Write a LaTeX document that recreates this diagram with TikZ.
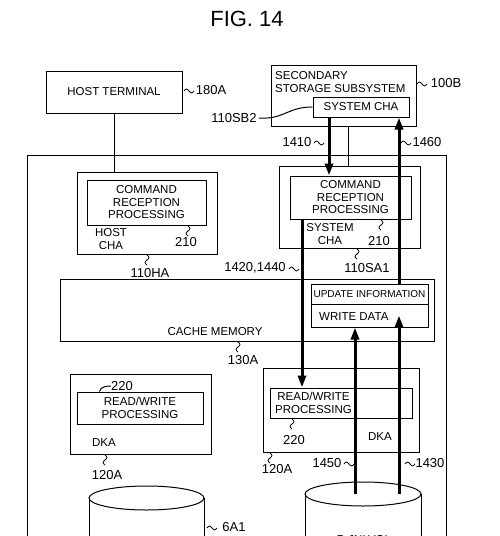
\documentclass[tikz,border=0pt]{standalone}
\usepackage{fontspec}
\setmainfont{Liberation Sans}
\usetikzlibrary{arrows.meta, positioning, calc}

\tikzset{
  box/.style={draw, line width=1pt, inner sep=0pt},
  tag/.style={inner sep=0pt, font=\fontsize{13}{14}\selectfont},
  boxname/.style={inner sep=0pt},
  link/.style={line width=1pt},
  heavy/.style={line width=3pt, -{Triangle[length=12pt,width=8pt]}},
  wave/.pic={\draw[line width=0.8pt] (0,0) sin (2.5,-2) cos (5,0) sin (7.5,2) cos (10,0);},
}

\begin{document}
\begin{tikzpicture}
	[x=1pt, y=-1pt, font=\fontsize{11.5}{12.5}\selectfont]
   \useasboundingbox (0,0) rectangle (500,536);
   \node[font=\fontsize{22}{24}\selectfont] (fig) at (247,19) {FIG. 14};

   % host terminal and secondary subsystem
   \node[box, minimum width=136pt, minimum height=42pt] (host) at (114,92) {HOST TERMINAL};
   \pic at (184,91) {wave};
   \node[tag] (l180A) at (211,90) {180A};
   \node[box, minimum width=145pt, minimum height=61pt] (sec) at (343.5,95.5) {};
   \node[boxname, anchor=north west, align=left] (secname) at (275,71.5) {SECONDARY\\STORAGE SUBSYSTEM};
   \node[box, minimum width=96pt, minimum height=20pt] (sbcha) at (361,107) {SYSTEM CHA};
   \pic at (417,84) {wave};
   \node[tag] (l100B) at (446,83) {100B};
   \node[tag] (l110SB2) at (234,118) {110SB2};
   \draw[link] ($(l110SB2.east)+(2,0)$) -- ++(8,0) .. controls (285,117) and (290,107) .. (sbcha.west);

   % primary subsystem
   \node[box, minimum width=419pt, minimum height=445pt] (frame) at (236.5,377.5) {};

   \node[box, minimum width=140pt, minimum height=82pt] (hcha) at (147,213) {};
   \node[box, minimum width=119pt, minimum height=45pt, align=center] (hcmd) at (146.5,202.5) {COMMAND\\RECEPTION\\PROCESSING};
   \node[boxname, align=center] (hchaname) at (111,239) {HOST\\CHA};
   \pic[rotate=-90] at (188,226) {wave};
   \node[tag] (l210a) at (186,242) {210};
   \pic[rotate=-90] at (147,255) {wave};
   \node[tag] (l110HA) at (150,273) {110HA};
   \draw[link] (host.south) -- (host.south |- hcha.north);

   \node[box, minimum width=141pt, minimum height=82pt] (scha) at (349.5,207) {};
   \node[box, minimum width=121pt, minimum height=43pt, align=center] (scmd) at (350.5,197.5) {COMMAND\\RECEPTION\\PROCESSING};
   \node[boxname, align=center] (schaname) at (330,234) {SYSTEM\\CHA};
   \pic[rotate=-90] at (381,220) {wave};
   \node[tag] (l210b) at (379,241) {210};
   \pic[rotate=-90] at (357,249) {wave};
   \node[tag] (l110SA1) at (367,268) {110SA1};
   \coordinate (xS) at (348,0);
   \draw[link] (sec.south -| xS) -- (scha.north -| xS);

   % cache memory
   \node[box, minimum width=374pt, minimum height=62pt] (cache) at (247,310) {};
   \node[boxname] (cachename) at (215,332) {CACHE MEMORY};
   \pic[rotate=-90] at (238,342) {wave};
   \node[tag] (l130A) at (243,360) {130A};
   \node[box, minimum width=117pt, minimum height=20pt, font=\fontsize{10}{12}\selectfont] (upd) at (369.5,294) {UPDATE INFORMATION};
   \node[box, minimum width=117pt, minimum height=23pt] (wdat) at (369.5,315.5) {};
   \node[boxname, anchor=west] (wdatname) at (319,317) {WRITE DATA};

   % disk adapters
   \node[box, minimum width=141pt, minimum height=80pt] (ldka) at (140.5,414) {};
   \node[box, minimum width=126pt, minimum height=32pt, align=center] (lrw) at (140,408) {READ/WRITE\\PROCESSING};
   \node[tag] (l220a) at (122,386) {220};
   \draw[link] ($(lrw.north west)+(23,0)$) .. controls +(1,-5) and +(-4,0) .. (l220a.west);
   \node[boxname] (ldkaname) at (104,443) {DKA};
   \pic[rotate=-90] at (105,455) {wave};
   \node[tag] (l120Aa) at (107,475) {120A};

   \node[box, minimum width=156pt, minimum height=84pt] (rdka) at (341,410) {};
   \node[box, minimum width=142pt, minimum height=30pt] (rrw) at (341,403) {};
   \node[boxname, align=center] (rrwname) at (313.5,403) {READ/WRITE\\PROCESSING};
   \pic[rotate=-90] at (292,419) {wave};
   \node[tag] (l220b) at (294,440) {220};
   \node[boxname] (rdkaname) at (380,437) {DKA};
   \pic[rotate=-90] at (270,453) {wave};
   \node[tag] (l120Ab) at (277,469) {120A};

   % volumes
   \coordinate (dl) at (146.5,498);
   \coordinate (dr) at (363,494);
   \draw[link] (dl) ellipse [x radius=57.5, y radius=12];
   \draw[link] ($(dl)+(-57.5,0)$) -- ++(0,60) ($(dl)+(57.5,0)$) -- ++(0,60);
   \draw[link] (dr) ellipse [x radius=58, y radius=12];
   \draw[link] ($(dr)+(-58,0)$) -- ++(0,60) ($(dr)+(58,0)$) -- ++(0,60);
   \pic at (207,528) {wave};
   \node[tag] (l6A1) at (234,527) {6A1};
   \node[boxname] (pjnl) at (364,540) {P-JNLVOL};

   % data flow
   \coordinate (xA) at (329,0);
   \coordinate (xB) at (302,0);
   \coordinate (xC) at (355,0);
   \coordinate (xD) at (399,0);
   \draw[heavy] (sbcha.south -| xA) -- (scmd.north -| xA);
   \draw[heavy] (upd.north -| xD) -- (sbcha.south -| xD);
   \draw[heavy] (scmd.south -| xB) -- (rrw.north -| xB);
   \draw[heavy] (dr -| xC) -- (wdat.south -| xC);
   \draw[heavy] (dr -| xD) -- (wdat.center -| xD);

   \node[tag] (l1410) at (297,142) {1410};
   \pic at (314,143) {wave};
   \pic at (401,143) {wave};
   \node[tag] (l1460) at (427,142) {1460};
   \node[tag] (l1420) at (255,268) {1420,1440};
   \pic at (289,269) {wave};
   \node[tag] (l1450) at (327,463) {1450};
   \pic at (344,464) {wave};
   \pic at (405,464) {wave};
   \node[tag] (l1430) at (430,463) {1430};
\end{tikzpicture}
\end{document}
